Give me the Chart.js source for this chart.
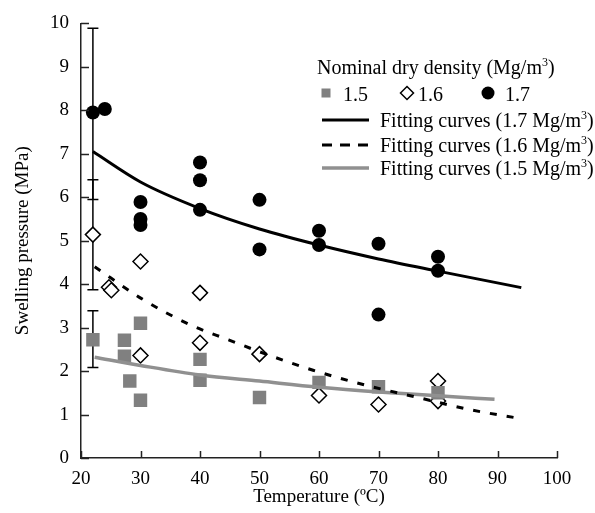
<!DOCTYPE html>
<html><head><meta charset="utf-8">
<script src="https://cdn.jsdelivr.net/npm/chart.js@4.4.0/dist/chart.umd.min.js"></script>
<style>
html,body{margin:0;padding:0;background:#fff;}
#wrap{position:relative;width:595px;height:513px;overflow:hidden;}
canvas{position:absolute;left:0;top:0;}
.lg{position:absolute;font-family:"Liberation Serif","Times New Roman",serif;font-size:20px;color:#000;white-space:nowrap;line-height:20px;height:20px;}
.lg sup{font-size:12px;line-height:0;vertical-align:8px;}
.mk{position:absolute;}
</style></head>
<body><div id="wrap"><canvas id="c" width="595" height="513"></canvas>
<div class="lg" style="left:317px;top:57px">Nominal dry density (Mg/m<sup>3</sup>)</div>
<svg class="mk" style="left:321px;top:88px" width="10" height="10"><rect x="0.5" y="0.5" width="9" height="9" fill="#808080"/></svg>
<div class="lg" style="left:343px;top:84px">1.5</div>
<svg class="mk" style="left:399px;top:85px" width="16" height="16"><polygon points="8,1.5 14.5,8 8,14.5 1.5,8" fill="#fff" stroke="#000" stroke-width="1.5"/></svg>
<div class="lg" style="left:418px;top:84px">1.6</div>
<svg class="mk" style="left:481px;top:86px" width="14" height="14"><circle cx="7" cy="7" r="6.5" fill="#000"/></svg>
<div class="lg" style="left:505px;top:84px">1.7</div>
<svg class="mk" style="left:321px;top:115px" width="50" height="10"><line x1="1" y1="5" x2="48" y2="5" stroke="#000" stroke-width="3"/></svg>
<div class="lg" style="left:380px;top:110px">Fitting curves (1.7 Mg/m<sup>3</sup>)</div>
<svg class="mk" style="left:321px;top:140px" width="50" height="10"><line x1="1" y1="5" x2="48" y2="5" stroke="#000" stroke-width="3" stroke-dasharray="10,8"/></svg>
<div class="lg" style="left:380px;top:135px">Fitting curves (1.6 Mg/m<sup>3</sup>)</div>
<svg class="mk" style="left:321px;top:163px" width="50" height="10"><line x1="1" y1="5" x2="48" y2="5" stroke="#909090" stroke-width="3.5"/></svg>
<div class="lg" style="left:380px;top:158px">Fitting curves (1.5 Mg/m<sup>3</sup>)</div>
</div>
<script>
// ---- data ----
const xTicks = [20, 30, 40, 50, 60, 70, 80, 90, 100];
const yTicks = [0, 1, 2, 3, 4, 5, 6, 7, 8, 9, 10];

const d15T = [22, 27.3, 27.3, 28.2, 30, 30, 40, 40, 50, 60, 70, 80];
const d15P = [2.72, 2.71, 2.34, 1.77, 3.10, 1.33, 2.27, 1.79, 1.39, 1.74, 1.64, 1.50];

const d16T = [22, 24.7, 25.1, 30, 30, 40, 40, 50, 60, 70, 80, 80];
const d16P = [5.14, 3.93, 3.86, 4.52, 2.36, 3.80, 2.65, 2.39, 1.44, 1.23, 1.77, 1.31];

const d17T = [22, 24, 30, 30, 30, 40, 40, 40, 50, 50, 60, 60, 70, 70, 80, 80];
const d17P = [7.95, 8.03, 5.89, 5.50, 5.36, 6.80, 6.39, 5.71, 5.94, 4.80, 5.23, 4.90, 4.93, 3.30, 4.63, 4.31];

const fit17T = [22, 30, 40, 50, 60, 70, 80, 94];
const fit17P = [7.05, 6.35, 5.74, 5.27, 4.90, 4.58, 4.30, 3.92];

const fit16T = [22.3, 30.5, 38.6, 44.8, 50.1, 59, 67.7, 76.4, 85.1, 93.5];
const fit16P = [4.40, 3.64, 3.05, 2.72, 2.44, 2.02, 1.68, 1.40, 1.12, 0.915];

const fit15T = [22.3, 30, 40, 50, 60, 70, 80, 89.5];
const fit15P = [2.32, 2.13, 1.91, 1.77, 1.63, 1.52, 1.43, 1.35];

const errT = [22, 22, 22];
const errLow = [5.95, 3.87, 2.08];
const errHigh = [9.89, 6.40, 3.39];

// ---- helpers ----
const pts = (xs, ys) => xs.map((x, i) => ({x: x, y: ys[i]}));
const FONT = '"Liberation Serif", "Times New Roman", serif';

const errorBars = {
  id: 'errorBars',
  beforeDatasetsDraw(chart) {
    const {ctx, scales: {x, y}} = chart;
    ctx.save();
    ctx.strokeStyle = '#000';
    ctx.lineWidth = 1.5;
    for (let i = 0; i < errT.length; i++) {
      const px = x.getPixelForValue(errT[i]);
      const y1 = y.getPixelForValue(errLow[i]);
      const y2 = y.getPixelForValue(errHigh[i]);
      ctx.beginPath();
      ctx.moveTo(px, y1); ctx.lineTo(px, y2);
      ctx.moveTo(px - 5.5, y1); ctx.lineTo(px + 5.5, y1);
      ctx.moveTo(px - 5.5, y2); ctx.lineTo(px + 5.5, y2);
      ctx.stroke();
    }
    ctx.restore();
  }
};

const innerTicks = {
  id: 'innerTicks',
  afterDraw(chart) {
    const {ctx, chartArea: a, scales: {x, y}} = chart;
    ctx.save();
    ctx.strokeStyle = '#222';
    ctx.lineWidth = 1.5;
    ctx.beginPath();
    yTicks.forEach(v => {
      const py = Math.round(y.getPixelForValue(v)) + 0.5;
      ctx.moveTo(a.left, py); ctx.lineTo(a.left + 8, py);
    });
    xTicks.forEach(v => {
      const px = Math.round(x.getPixelForValue(v)) + 0.5;
      ctx.moveTo(px, a.bottom); ctx.lineTo(px, a.bottom - 7);
    });
    ctx.stroke();
    ctx.restore();
  }
};

new Chart(document.getElementById('c'), {
  type: 'scatter',
  data: {
    datasets: [
      {label: 'Fitting curves (1.7 Mg/m3)', data: pts(fit17T, fit17P), showLine: true, pointRadius: 0,
       borderColor: '#000', borderWidth: 3, cubicInterpolationMode: 'monotone', order: 0},
      {label: 'Fitting curves (1.6 Mg/m3)', data: pts(fit16T, fit16P), showLine: true, pointRadius: 0,
       borderColor: '#000', borderWidth: 3, borderDash: [7, 10], cubicInterpolationMode: 'monotone', order: 0},
      {label: 'Fitting curves (1.5 Mg/m3)', data: pts(fit15T, fit15P), showLine: true, pointRadius: 0,
       borderColor: '#909090', borderWidth: 3.5, cubicInterpolationMode: 'monotone', order: 0},
      {label: '1.7', data: pts(d17T, d17P), pointStyle: 'circle', pointRadius: 7,
       backgroundColor: '#000', borderColor: '#000', borderWidth: 0, order: 1},
      {label: '1.5', data: pts(d15T, d15P), pointStyle: 'rect', pointRadius: 9.5,
       backgroundColor: '#808080', borderColor: '#808080', borderWidth: 0, order: 2},
      {label: '1.6', data: pts(d16T, d16P), pointStyle: 'rectRot', pointRadius: 7.5,
       backgroundColor: '#fff', borderColor: '#000', borderWidth: 1.5, order: 3}
    ]
  },
  options: {
    responsive: false,
    animation: false,
    devicePixelRatio: 1,
    events: [],
    layout: {padding: {top: 21, right: 38, left: 0, bottom: 0}},
    plugins: {legend: {display: false}, tooltip: {enabled: false}},
    scales: {
      x: {
        type: 'linear', min: 20, max: 100,
        afterFit(s) { s.height = 55; },
        afterBuildTicks(s) { s.ticks = xTicks.map(v => ({value: v})); },
        ticks: {font: {family: FONT, size: 19}, color: '#000', padding: 10, maxRotation: 0},
        grid: {display: false, drawTicks: false},
        border: {display: true, color: '#222', width: 1.5},
        title: {display: true, text: 'Temperature (ºC)', color: '#000',
                font: {family: FONT, size: 19}, padding: {top: 0, bottom: 5}}
      },
      y: {
        type: 'linear', min: 0, max: 10,
        afterFit(s) { s.width = 81; },
        afterBuildTicks(s) { s.ticks = yTicks.map(v => ({value: v})); },
        ticks: {font: {family: FONT, size: 19}, color: '#000', padding: 12},
        grid: {display: false, drawTicks: false},
        border: {display: true, color: '#222', width: 1.5},
        title: {display: true, text: 'Swelling pressure (MPa)', color: '#000',
                font: {family: FONT, size: 19}, padding: {top: 12, bottom: 0}}
      }
    }
  },
  plugins: [errorBars, innerTicks]
});
</script>
</body></html>
